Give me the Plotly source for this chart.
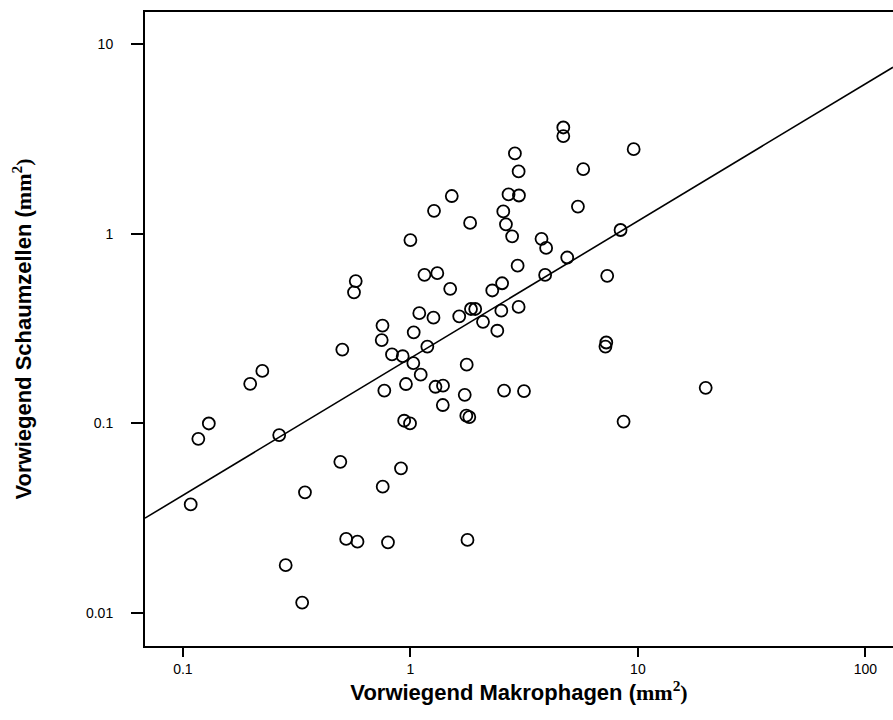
import numpy as np
import plotly.graph_objects as go

# Data (mm^2)
makrophagen = [
    4.70, 4.70, 9.58, 2.88, 5.75, 2.99, 1.52, 2.70, 3.00, 1.27,
    2.56, 5.45, 1.83, 2.63, 2.80, 1.00, 8.39, 3.77, 3.95, 4.89,
    2.96, 1.153, 1.313, 3.91, 7.33, 0.575, 0.565, 2.53, 2.29, 1.496,
    1.094, 1.263, 1.639, 1.846, 1.927, 2.51, 2.99, 2.085, 2.41, 0.754,
    0.748, 1.034, 0.502, 1.187, 0.830, 0.925, 7.26, 7.20, 1.03, 1.768,
    0.2234, 0.1976, 1.110, 0.956, 0.768, 1.289, 1.391, 1.388, 1.733, 2.58,
    3.157, 19.86, 0.130, 0.1169, 0.265, 0.939, 0.996, 1.761, 1.815, 8.65,
    0.492, 0.909, 0.7556, 0.344, 0.1082, 0.522, 0.5853, 0.797, 1.782, 0.283,
    0.3344,
]
schaumzellen = [
    3.63, 3.27, 2.79, 2.65, 2.19, 2.13, 1.58, 1.61, 1.59, 1.32,
    1.31, 1.39, 1.14, 1.12, 0.969, 0.926, 1.046, 0.940, 0.841, 0.749,
    0.678, 0.607, 0.619, 0.606, 0.600, 0.563, 0.491, 0.548, 0.502, 0.512,
    0.381, 0.361, 0.367, 0.401, 0.401, 0.393, 0.411, 0.343, 0.308, 0.328,
    0.275, 0.302, 0.245, 0.254, 0.231, 0.226, 0.267, 0.254, 0.208, 0.204,
    0.189, 0.1617, 0.1806, 0.1613, 0.149, 0.156, 0.158, 0.125, 0.1415, 0.149,
    0.148, 0.154, 0.0999, 0.0829, 0.0868, 0.1033, 0.100, 0.1098, 0.108, 0.1023,
    0.0627, 0.058, 0.0464, 0.0433, 0.0374, 0.0246, 0.0238, 0.0236, 0.0243, 0.0179,
    0.01137,
]

# Regression line (log-log): y = 10**intercept * x**slope
reg_slope = 0.723
reg_intercept = -0.656

x_tickvals = [0.1, 1, 10, 100]
x_ticktext = ["0.1", "1", "10", "100"]
y_tickvals = [0.01, 0.1, 1, 10]
y_ticktext = ["0.01", "0.1", "1", "10"]

x_range = [-1.1666, 2.1213]
y_range = [-2.1734, 1.1687]

line_x = np.logspace(x_range[0], x_range[1], 60)
line_y = 10 ** reg_intercept * line_x ** reg_slope

fig = go.Figure()
fig.add_trace(go.Scatter(
    x=line_x, y=line_y, mode="lines",
    line=dict(color="black", width=1.6),
    hoverinfo="skip", showlegend=False,
))
fig.add_trace(go.Scatter(
    x=makrophagen, y=schaumzellen, mode="markers",
    marker=dict(symbol="circle-open", size=12, color="black",
                line=dict(color="black", width=1.8)),
    showlegend=False,
))

font_sans = "Arial, Liberation Sans, sans-serif"

fig.update_layout(
    width=893, height=720,
    margin=dict(l=145, r=0, t=12, b=74),
    paper_bgcolor="white", plot_bgcolor="white",
    font=dict(family=font_sans, color="black"),
    xaxis=dict(
        type="log", range=x_range,
        tickvals=x_tickvals, ticktext=x_ticktext,
        ticks="outside", ticklen=9, tickwidth=2, tickcolor="black",
        showline=True, linewidth=2, linecolor="black", mirror=True,
        showgrid=False, zeroline=False,
        tickfont=dict(size=14, family=font_sans),
        ticklabelstandoff=0,
        title=dict(
            text="<b>Vorwiegend Makrophagen (<span style='font-family:Liberation Serif'>mm<sup>2</sup>)</span></b>",
            font=dict(size=22, family=font_sans), standoff=4,
        ),
    ),
    yaxis=dict(
        type="log", range=y_range,
        tickvals=y_tickvals, ticktext=y_ticktext,
        ticks="outside", ticklen=12, tickwidth=2, tickcolor="black",
        showline=True, linewidth=2, linecolor="black", mirror=False,
        showgrid=False, zeroline=False,
        tickfont=dict(size=14, family=font_sans),
        ticklabelstandoff=15,
        title=dict(
            text="<b>Vorwiegend Schaumzellen (<span style='font-family:Liberation Serif'>mm<sup>2</sup>)</span></b>",
            font=dict(size=22, family=font_sans), standoff=48,
        ),
    ),
)

fig.write_html("out.html")
